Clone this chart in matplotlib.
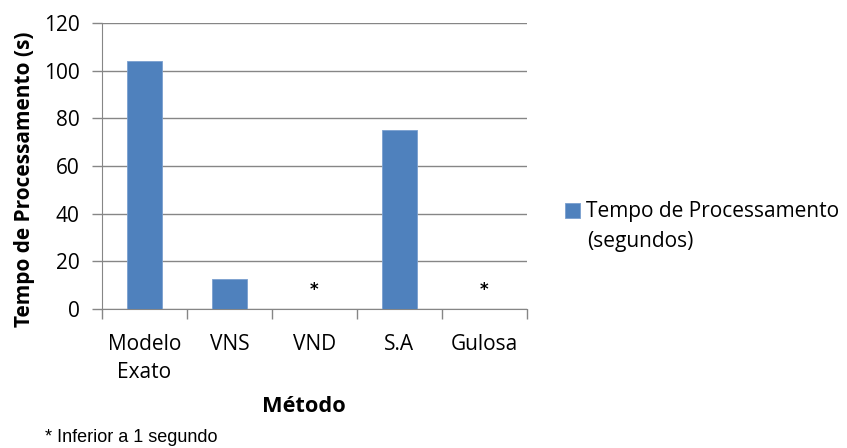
import matplotlib
matplotlib.use("Agg")
import matplotlib.pyplot as plt
import numpy as np

metodos = ["Modelo\nExato", "VNS", "VND", "S.A", "Gulosa"]
tempos = [104, 12.6, 0, 75, 0]
abaixo_1s = [False, False, True, False, True]  # marcados com "*"

COR = "#4F81BD"
CINZA = "#868686"
FONTE = "Open Sans"

fig = plt.figure(figsize=(8.47, 4.48), dpi=100)
ax = fig.add_axes([0.1204, 0.3103, 0.5018, 0.6384])

x = np.arange(len(metodos))
ax.bar(x, tempos, width=0.41, color=COR, edgecolor="#7A9FCF", linewidth=0.6,
       label="Tempo de Processamento", zorder=3)

for xi, flag in zip(x, abaixo_1s):
    if flag:
        ax.text(xi, 8.0, "*", ha="center", va="center", fontsize=12,
                fontweight="bold", family="DejaVu Sans", zorder=4)

ax.set_xlim(-0.5, len(metodos) - 0.5)
ax.set_ylim(0, 120)
ax.set_yticks(np.arange(0, 121, 20))
ax.yaxis.grid(True, color=CINZA, linewidth=1.0, zorder=0)

# ticks do eixo x entre as categorias, estilo Excel
ax.set_xticks(x)
ax.set_xticklabels(metodos, fontsize=15, family=FONTE, linespacing=1.45)
ax.set_xticks(np.arange(-0.5, len(metodos)), minor=True)
ax.tick_params(axis="x", which="major", length=0, pad=18)
ax.tick_params(axis="x", which="minor", length=7, color=CINZA, width=1.0)
ax.tick_params(axis="y", length=7, color=CINZA, width=1.0, pad=9,
               labelsize=15)
for lab in ax.get_yticklabels():
    lab.set_family(FONTE)

for s in ["top", "right"]:
    ax.spines[s].set_visible(False)
ax.spines["left"].set_color(CINZA)
ax.spines["bottom"].set_color(CINZA)

ax.set_ylabel("Tempo de Processamento (s)", fontsize=15, fontweight="bold",
              family=FONTE)
ax.yaxis.set_label_coords(-0.158, 0.455)
ax.set_xlabel("Método", fontsize=15.7, fontweight="bold", family=FONTE)
ax.xaxis.set_label_coords(0.475, -0.305)

leg = ax.legend(loc="center left", bbox_to_anchor=(0.667, 0.527),
                bbox_transform=fig.transFigure, frameon=False,
                prop={"family": FONTE, "size": 15}, handlelength=0.72,
                handleheight=0.72, handletextpad=0.3, borderpad=0,
                borderaxespad=0)
# segunda linha da legenda
fig.text(0.693, 0.462, "(segundos)", fontsize=15, family=FONTE,
         ha="left", va="center")

fig.text(0.053, 0.024, "* Inferior a 1 segundo", fontsize=13,
         family="Liberation Sans", ha="left", va="center")

fig.savefig("out.png", dpi=100)
